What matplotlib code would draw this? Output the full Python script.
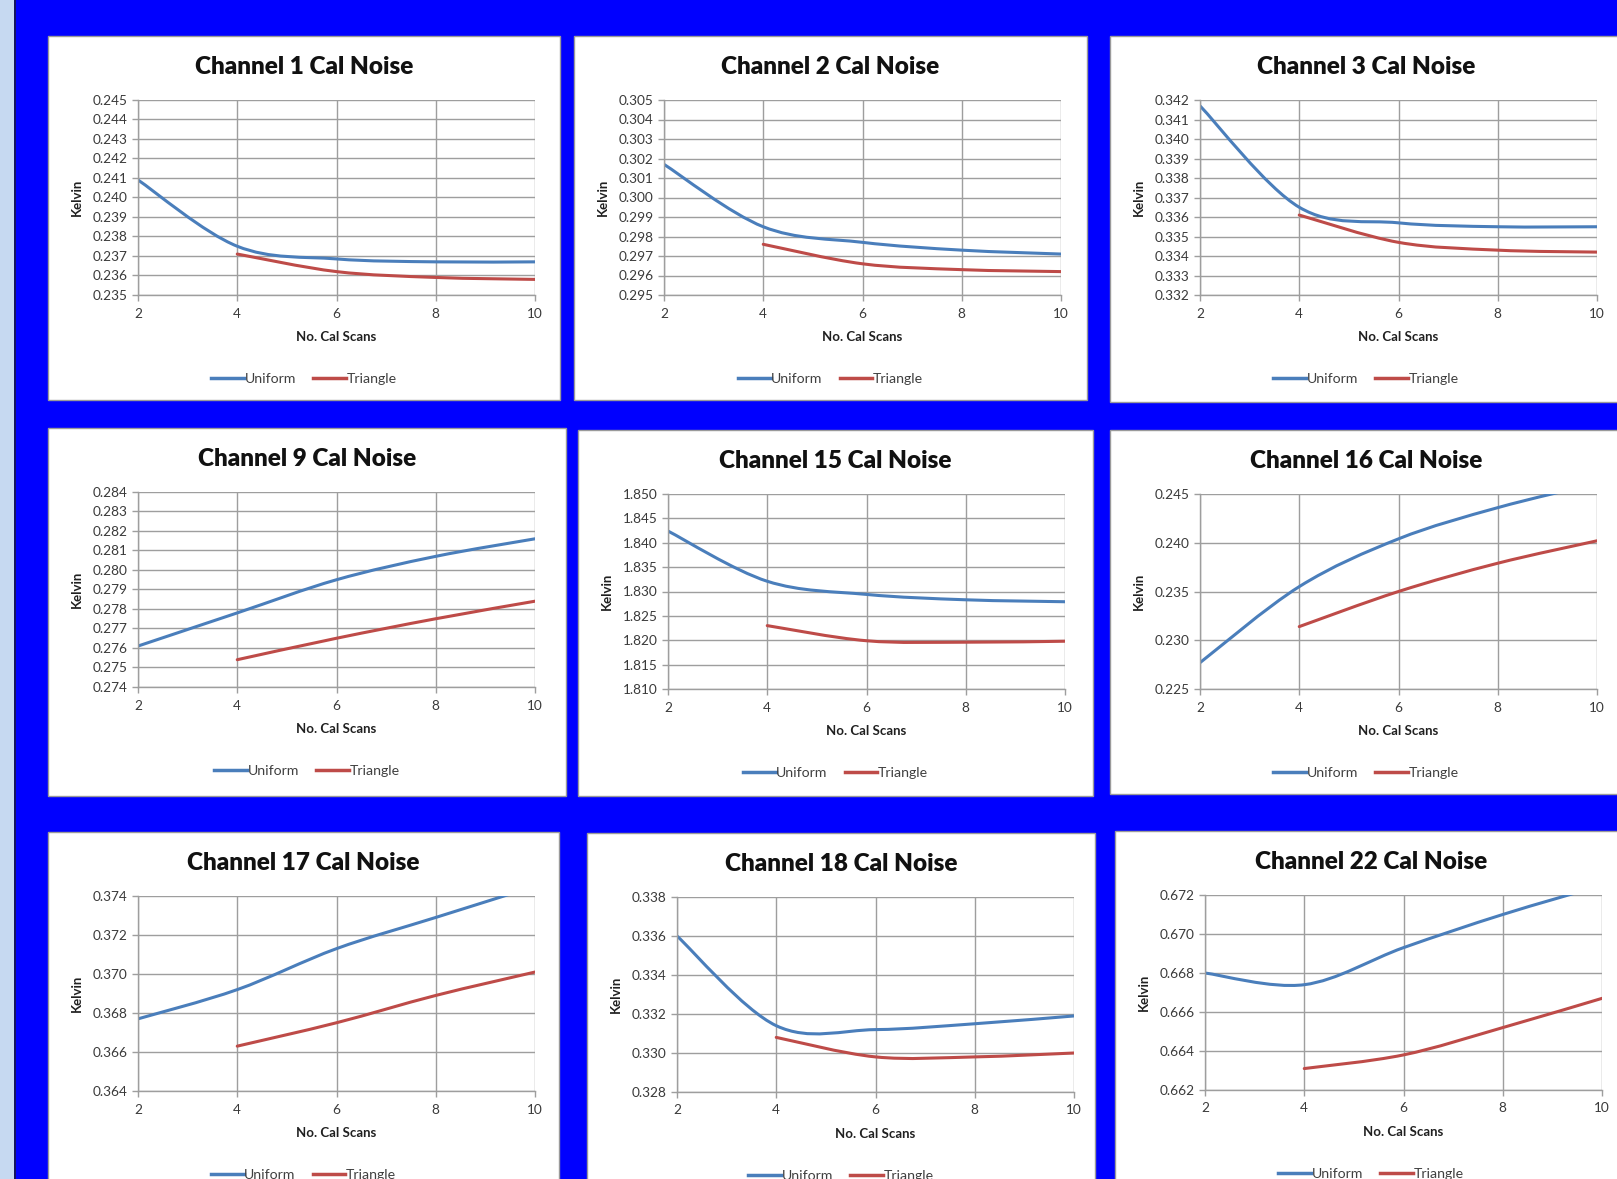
import matplotlib
matplotlib.use("Agg")
import matplotlib.pyplot as plt
from matplotlib.path import Path
from matplotlib.patches import PathPatch, Rectangle
from matplotlib.lines import Line2D
from matplotlib.ticker import FormatStrFormatter, MultipleLocator

plt.rcParams['font.family'] = ['Lato', 'DejaVu Sans']

# ---- data ----
scans_uniform = [2, 4, 6, 8, 10]
scans_triangle = [4, 6, 8, 10]

titles = ["Channel 1 Cal Noise", "Channel 2 Cal Noise", "Channel 3 Cal Noise",
          "Channel 9 Cal Noise", "Channel 15 Cal Noise", "Channel 16 Cal Noise",
          "Channel 17 Cal Noise", "Channel 18 Cal Noise", "Channel 22 Cal Noise"]

ch1_uniform = [0.2409, 0.2375, 0.23685, 0.2367, 0.2367]
ch1_triangle = [0.2371, 0.2362, 0.2359, 0.2358]
ch2_uniform = [0.3017, 0.2985, 0.2977, 0.2973, 0.2971]
ch2_triangle = [0.2976, 0.2966, 0.2963, 0.2962]
ch3_uniform = [0.3417, 0.3365, 0.3357, 0.3355, 0.3355]
ch3_triangle = [0.3361, 0.3347, 0.3343, 0.3342]
ch9_uniform = [0.2761, 0.2778, 0.2795, 0.2807, 0.2816]
ch9_triangle = [0.2754, 0.2765, 0.2775, 0.2784]
ch15_uniform = [1.8424, 1.8321, 1.8294, 1.8283, 1.8279]
ch15_triangle = [1.8230, 1.8199, 1.8196, 1.8198]
ch16_uniform = [0.2277, 0.2355, 0.2404, 0.2436, 0.2461]
ch16_triangle = [0.2314, 0.2350, 0.2379, 0.2402]
ch17_uniform = [0.3677, 0.3692, 0.3713, 0.3729, 0.3745]
ch17_triangle = [0.3663, 0.3675, 0.3689, 0.3701]
ch18_uniform = [0.3360, 0.3314, 0.3312, 0.3315, 0.3319]
ch18_triangle = [0.3308, 0.3298, 0.3298, 0.3300]
ch22_uniform = [0.6680, 0.6674, 0.6693, 0.6710, 0.6725]
ch22_triangle = [0.6631, 0.6638, 0.6652, 0.6667]

uniform_series = [ch1_uniform, ch2_uniform, ch3_uniform, ch9_uniform, ch15_uniform,
                  ch16_uniform, ch17_uniform, ch18_uniform, ch22_uniform]
triangle_series = [ch1_triangle, ch2_triangle, ch3_triangle, ch9_triangle, ch15_triangle,
                   ch16_triangle, ch17_triangle, ch18_triangle, ch22_triangle]

# y axis ranges (min, max, step)
y_ranges = [(0.235, 0.245, 0.001), (0.295, 0.305, 0.001), (0.332, 0.342, 0.001),
            (0.274, 0.284, 0.001), (1.810, 1.850, 0.005), (0.225, 0.245, 0.005),
            (0.364, 0.374, 0.002), (0.328, 0.338, 0.002), (0.662, 0.672, 0.002)]

# ---- layout (pixels in a 1617 x 1179 canvas) ----
W, H = 1617, 1179
panels = [(48, 36, 512, 364), (574, 36, 513, 364), (1110, 36, 520, 366),
          (48, 428, 518, 368), (578, 430, 515, 366), (1110, 430, 520, 364),
          (48, 832, 511, 360), (587, 833, 508, 360), (1115, 831, 520, 360)]

BLUE = '#4A7EBB'
RED = '#BE4B48'
GRID = '#9e9e9e'


def smooth_path(xs, ys):
    # Excel-style smoothed line as cubic bezier segments through the points
    pts = list(zip(xs, ys))
    n = len(pts)
    verts = [pts[0]]
    codes = [Path.MOVETO]
    for i in range(n - 1):
        p0 = pts[i - 1] if i > 0 else pts[i]
        p1, p2 = pts[i], pts[i + 1]
        p3 = pts[i + 2] if i + 2 < n else pts[i + 1]
        c1 = (p1[0] + (p2[0] - p0[0]) / 6, p1[1] + (p2[1] - p0[1]) / 6)
        c2 = (p2[0] - (p3[0] - p1[0]) / 6, p2[1] - (p3[1] - p1[1]) / 6)
        verts += [c1, c2, p2]
        codes += [Path.CURVE4] * 3
    return Path(verts, codes)


fig = plt.figure(figsize=(W / 100, H / 100), dpi=100)
fig.patch.set_facecolor('#0000FF')

# light strip at left edge
fig.add_artist(Rectangle((0, 0), 14 / W, 1, transform=fig.transFigure,
                         facecolor='#C6D9F1', edgecolor='none', zorder=-20))
fig.add_artist(Line2D([14.5 / W, 14.5 / W], [0, 1], transform=fig.transFigure,
                      color='#1a1a40', lw=1.2, zorder=-20))

for i, (px, py, pw, ph) in enumerate(panels):
    fig.add_artist(Rectangle((px / W, 1 - (py + ph) / H), pw / W, ph / H,
                             transform=fig.transFigure, facecolor='white',
                             edgecolor='#9a9a9a', lw=1.0, zorder=-10))
    ax_l = px + 90
    ax_t = py + 64
    ax_w = 397
    ax_h = 195
    ax = fig.add_axes([ax_l / W, 1 - (ax_t + ax_h) / H, ax_w / W, ax_h / H])
    ax.set_facecolor('white')

    ymin, ymax, step = y_ranges[i]
    ax.set_xlim(2, 10)
    ax.set_ylim(ymin, ymax)
    ax.xaxis.set_major_locator(MultipleLocator(2))
    ax.yaxis.set_major_locator(MultipleLocator(step))
    ax.yaxis.set_major_formatter(FormatStrFormatter('%.3f'))
    ax.grid(True, color=GRID, lw=1.0)
    ax.set_axisbelow(True)
    for side in ['top', 'right']:
        ax.spines[side].set_visible(False)
    for side in ['left', 'bottom']:
        ax.spines[side].set_color(GRID)
        ax.spines[side].set_linewidth(1.0)
    ax.tick_params(axis='both', colors=GRID, length=4, width=1.0,
                   labelcolor='#3a3a3a', labelsize=9.8)
    ax.tick_params(axis='x', pad=5)

    ax.add_patch(PathPatch(smooth_path(scans_uniform, uniform_series[i]),
                           fill=False, edgecolor=BLUE, lw=2.2, capstyle='round'))
    ax.add_patch(PathPatch(smooth_path(scans_triangle, triangle_series[i]),
                           fill=False, edgecolor=RED, lw=2.2, capstyle='round'))

    ax.set_xlabel('No. Cal Scans', fontsize=9.5, fontweight='bold', labelpad=8,
                  color='#202020')

    cx = (px + pw / 2) / W if i % 3 != 2 else (px + 256) / W
    fig.text(cx, 1 - (py + 31) / H, titles[i], ha='center', va='center',
             fontsize=17.5, fontweight='heavy', color='#111111')
    fig.text((px + 29) / W, 1 - (ax_t + ax_h / 2) / H, 'Kelvin', rotation=90,
             ha='center', va='center', fontsize=9.5, fontweight='bold',
             color='#202020')

    handles = [Line2D([], [], color=BLUE, lw=2.5), Line2D([], [], color=RED, lw=2.5)]
    fig.legend(handles, ['Uniform', 'Triangle'], loc='center',
               bbox_to_anchor=(cx, 1 - (py + 343) / H), ncol=2, frameon=False,
               fontsize=10.2, handlelength=2.3, handletextpad=0.05,
               columnspacing=1.2, labelcolor='#404040')

fig.savefig('out.png', dpi=100, facecolor=fig.get_facecolor())
